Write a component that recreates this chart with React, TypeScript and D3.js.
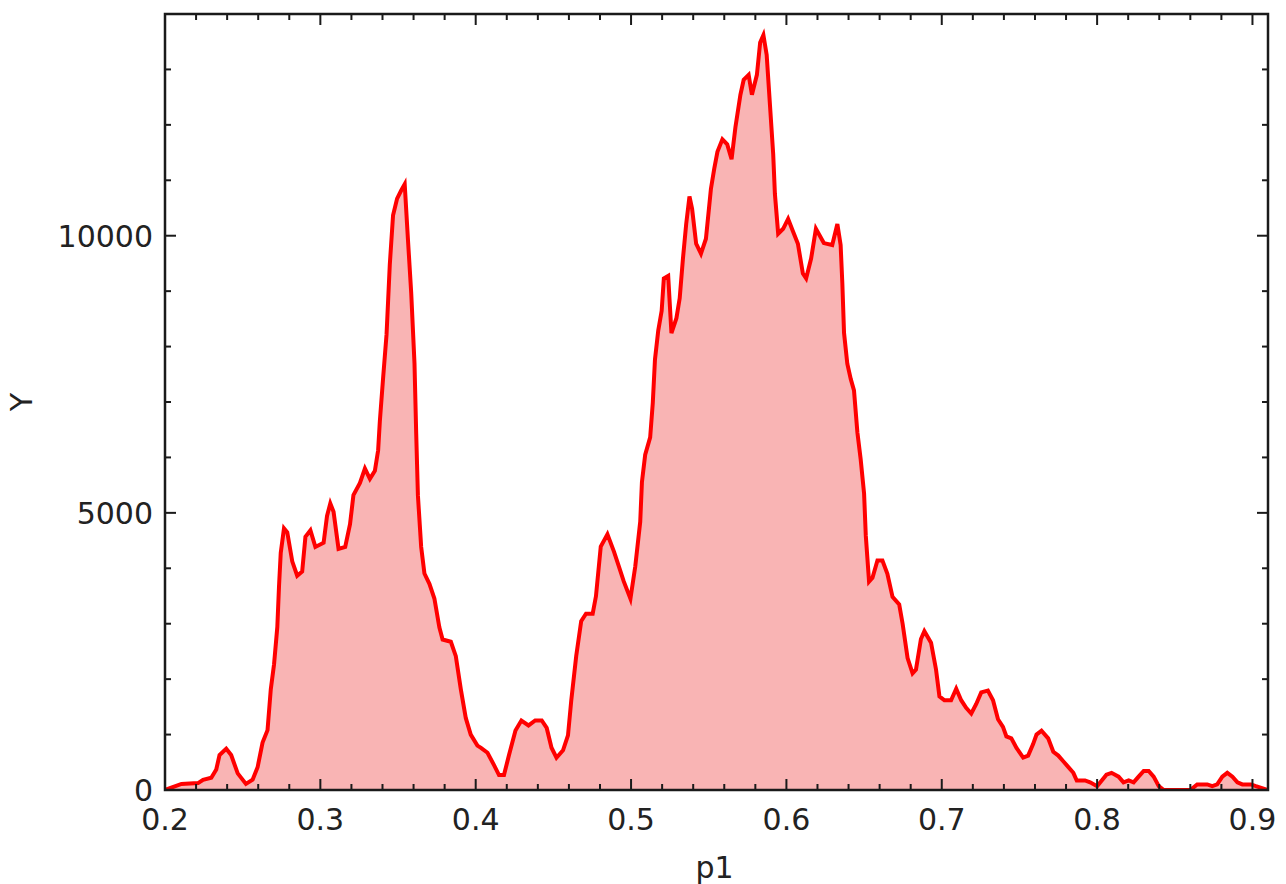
import React from "react";
import * as d3 from "d3";

const pValues: number[] = [
  0.2, 0.2106, 0.2213, 0.2245, 0.2298, 0.233, 0.2351, 0.2394, 0.2426, 0.2468, 0.2521, 0.2564, 0.2596,
  0.2628, 0.266, 0.2681, 0.2702, 0.2723, 0.2734, 0.2745, 0.2766, 0.2787, 0.2819, 0.2851, 0.2883, 0.2904,
  0.2936, 0.2968, 0.3021, 0.3043, 0.3064, 0.3085, 0.3117, 0.316, 0.3191, 0.3213, 0.3255, 0.3287, 0.3319,
  0.3351, 0.3372, 0.3383, 0.3404, 0.3426, 0.3447, 0.3468, 0.3494, 0.3521, 0.3543, 0.3564, 0.3585, 0.3606,
  0.3617, 0.3628, 0.3649, 0.367, 0.3702, 0.3734, 0.3766, 0.3787, 0.384, 0.3872, 0.3904, 0.3936, 0.3968,
  0.4011, 0.4034, 0.4076, 0.4118, 0.415, 0.4182, 0.4214, 0.4256, 0.4294, 0.434, 0.4383, 0.4425, 0.4457,
  0.4488, 0.452, 0.4562, 0.4594, 0.4615, 0.4647, 0.4679, 0.471, 0.4753, 0.4774, 0.4805, 0.4848, 0.489,
  0.4922, 0.4953, 0.4996, 0.5027, 0.5059, 0.507, 0.5091, 0.5123, 0.514, 0.5154, 0.5175, 0.5197, 0.5211,
  0.5239, 0.526, 0.5292, 0.5313, 0.5334, 0.5355, 0.5376, 0.5393, 0.5419, 0.545, 0.5482, 0.5514, 0.5535,
  0.5556, 0.5588, 0.5619, 0.5647, 0.5672, 0.5704, 0.5725, 0.5757, 0.5778, 0.581, 0.5831, 0.5852, 0.5873,
  0.5894, 0.5915, 0.5926, 0.5947, 0.5979, 0.6011, 0.6042, 0.6074, 0.6106, 0.6127, 0.6159, 0.619, 0.6241,
  0.6295, 0.6328, 0.6349, 0.636, 0.6371, 0.6392, 0.6414, 0.6435, 0.6457, 0.6478, 0.65, 0.6511, 0.6532,
  0.6554, 0.6586, 0.6618, 0.665, 0.6683, 0.6726, 0.6748, 0.678, 0.6812, 0.6834, 0.6866, 0.6888, 0.6931,
  0.6963, 0.6985, 0.7017, 0.706, 0.7093, 0.7125, 0.7157, 0.719, 0.7222, 0.7254, 0.7297, 0.733, 0.7362,
  0.7394, 0.7416, 0.7448, 0.7481, 0.7524, 0.7556, 0.7588, 0.761, 0.7642, 0.7685, 0.7718, 0.775, 0.7782,
  0.7815, 0.7847, 0.7869, 0.7922, 0.7955, 0.8, 0.803, 0.806, 0.8093, 0.8138, 0.817, 0.8203, 0.8235,
  0.8267, 0.83, 0.8332, 0.8364, 0.8397, 0.8429, 0.86, 0.8644, 0.8709, 0.8741, 0.8773, 0.8806, 0.8838,
  0.8871, 0.8903, 0.8935, 0.899, 0.9022, 0.91,
];

const yValues: number[] = [
  0, 110, 125, 185, 220, 370, 630, 745, 630, 300, 110, 185, 410,
  855, 1080, 1820, 2270, 2940, 3680, 4275, 4720, 4650, 4125, 3865, 3940, 4570,
  4685, 4385, 4460, 4945, 5170, 5020, 4350, 4385, 4795, 5320, 5540, 5800, 5615,
  5760, 6130, 6655, 7435, 8215, 9480, 10370, 10670, 10820, 10930, 9925, 8960, 7695,
  6430, 5315, 4385, 3905, 3720, 3455, 2935, 2715, 2675, 2415, 1820, 1300, 1000,
  800, 760, 672, 448, 269, 269, 627, 1075, 1254, 1165, 1254, 1254, 1120,
  762, 582, 717, 986, 1613, 2419, 3046, 3180, 3180, 3494, 4390, 4614, 4300,
  4032, 3763, 3450, 4032, 4838, 5555, 6048, 6362, 6989, 7768, 8288, 8646, 9229,
  9274, 8243, 8512, 8870, 9587, 10214, 10707, 10483, 9856, 9677, 9946, 10842, 11200,
  11514, 11738, 11648, 11379, 11962, 12544, 12813, 12902, 12544, 12902, 13485, 13619, 13261,
  12365, 11469, 10752, 10035, 10125, 10304, 10080, 9856, 9318, 9229, 9587, 10125, 9867,
  9832, 10212, 9832, 9142, 8245, 7693, 7417, 7210, 6451, 5968, 5347, 4588, 3760,
  3830, 4140, 4140, 3900, 3485, 3347, 3000, 2380, 2104, 2174, 2725, 2864, 2657,
  2174, 1690, 1620, 1620, 1828, 1620, 1483, 1380, 1552, 1760, 1794, 1620, 1276,
  1138, 966, 932, 759, 586, 621, 828, 1000, 1070, 932, 690, 621, 518,
  414, 310, 172, 172, 138, 69, 172, 276, 310, 241, 138, 172, 138,
  241, 345, 345, 241, 69, 0, 0, 100, 100, 69, 100, 241, 310,
  241, 138, 100, 100, 69, 0,
];

const xMajorTicks: number[] = [0.2, 0.3, 0.4, 0.5, 0.6, 0.7, 0.8, 0.9];
const xTickLabels: string[] = ["0.2", "0.3", "0.4", "0.5", "0.6", "0.7", "0.8", "0.9"];
const yMajorTicks: number[] = [0, 5000, 10000];
const yTickLabels: string[] = ["0", "5000", "10000"];

const xLabel = "p1";
const yLabel = "Y";

const W = 1286;
const H = 884;
const L = 165, R = 1268, T = 14, B = 790;

export default function App() {
  const x = d3.scaleLinear().domain([0.2, 0.91]).range([L, R]);
  const y = d3.scaleLinear().domain([0, 14000]).range([B, T]);

  const data = pValues.map((p, i) => ({ p, v: yValues[i] }));
  const area = d3
    .area<{ p: number; v: number }>()
    .x((d) => x(d.p))
    .y0(y(0))
    .y1((d) => y(d.v))
    .curve(d3.curveLinear);
  const line = d3
    .line<{ p: number; v: number }>()
    .x((d) => x(d.p))
    .y((d) => y(d.v))
    .curve(d3.curveLinear);

  const xMinor = d3.range(0, 46).map((i) => 0.2 + i * 0.02).filter((v) => v <= 0.9101);
  const yMinor = d3.range(0, 15).map((i) => i * 1000);
  const isXMajor = (v: number) => xMajorTicks.some((m) => Math.abs(m - v) < 1e-6);
  const isYMajor = (v: number) => yMajorTicks.some((m) => Math.abs(m - v) < 1e-6);

  const axisColor = "#1a1a1a";
  const font = "'DejaVu Sans', sans-serif";

  return (
    <svg
      width={W}
      height={H}
      style={{ position: "absolute", left: 0, top: 0, background: "#fff" }}
    >
      <defs>
        <clipPath id="plotClip">
          <rect x={L} y={T} width={R - L} height={B - T} />
        </clipPath>
      </defs>
      <g clipPath="url(#plotClip)">
        <path d={area(data) || ""} fill="#f9b4b4" />
        <path d={line(data) || ""} fill="none" stroke="#ff0000" strokeWidth={4} strokeLinejoin="miter" />
      </g>
      {/* ticks */}
      <g stroke={axisColor} strokeWidth={2}>
        {xMinor.map((v, i) => {
          const len = isXMajor(v) ? 11 : 6;
          const px = x(v);
          return (
            <g key={"xt" + i}>
              <line x1={px} x2={px} y1={B} y2={B - len} />
              <line x1={px} x2={px} y1={T} y2={T + len} />
            </g>
          );
        })}
        {yMinor.map((v, i) => {
          const len = isYMajor(v) ? 11 : 6;
          const py = y(v);
          return (
            <g key={"yt" + i}>
              <line x1={L} x2={L + len} y1={py} y2={py} />
              <line x1={R} x2={R - len} y1={py} y2={py} />
            </g>
          );
        })}
      </g>
      <rect x={L} y={T} width={R - L} height={B - T} fill="none" stroke={axisColor} strokeWidth={2.5} />
      {/* tick labels */}
      <g fill="#222" fontFamily={font} fontSize={30}>
        {xMajorTicks.map((v, i) => (
          <text key={"xl" + i} x={x(v)} y={830} textAnchor="middle">
            {xTickLabels[i]}
          </text>
        ))}
        {yMajorTicks.map((v, i) => (
          <text key={"yl" + i} x={L - 12} y={y(v) + 11} textAnchor="end">
            {yTickLabels[i]}
          </text>
        ))}
        <text x={(L + R) / 2 - 2} y={878} textAnchor="middle">
          {xLabel}
        </text>
        <text transform={`translate(32, 402) rotate(-90)`} textAnchor="middle">
          {yLabel}
        </text>
      </g>
    </svg>
  );
}
